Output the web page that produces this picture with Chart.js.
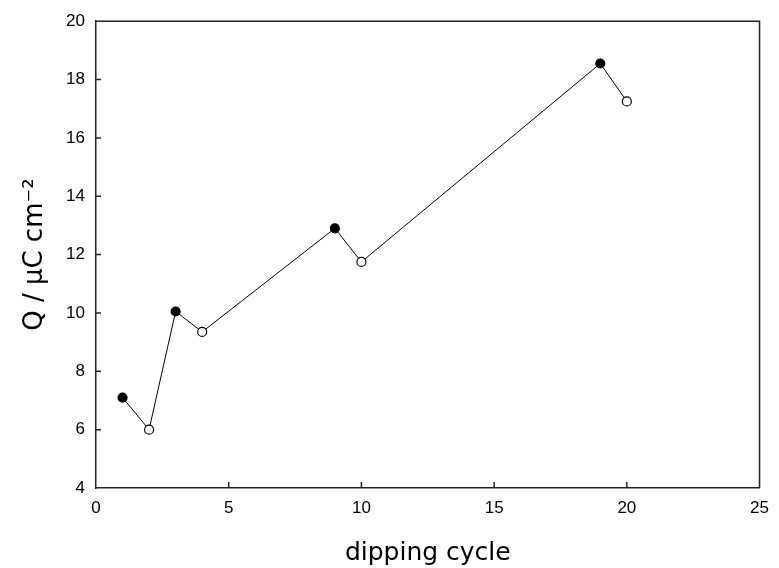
<!DOCTYPE html>
<html>
<head>
<meta charset="utf-8">
<script src="https://cdn.jsdelivr.net/npm/chart.js@4.4.0/dist/chart.umd.min.js"></script>
<style>
  html, body { margin: 0; padding: 0; background: #fff; }
  #wrap { width: 779px; height: 568px; }
</style>
</head>
<body>
<div id="wrap"><canvas id="mycanvas"></canvas></div>
<script>
// dipping cycle vs charge
var cycles = [1, 2, 3, 4, 9, 10, 19, 20];
var charge = [7.1, 6.0, 10.05, 9.35, 12.9, 11.75, 18.55, 17.25];
// filled marker = true, open marker = false
var filled = [true, false, true, false, true, false, true, false];

var xTicks = [0, 5, 10, 15, 20, 25];
var yTicks = [4, 6, 8, 10, 12, 14, 16, 18, 20];

var points = [];
for (var i in cycles) {
	points.push({x: cycles[i], y: charge[i]});
}

var fills = filled.map(function(f) { return f ? '#000' : '#fff'; });

// inward ticks + closing frame on top and right
var frameTicks = {
	id: 'frameTicks',
	afterDatasetsDraw: function(chart) {
		var ctx = chart.ctx;
		var a = chart.chartArea;
		var xs = chart.scales.x, ys = chart.scales.y;
		ctx.save();
		ctx.strokeStyle = '#222';
		ctx.lineWidth = 1.5;
		ctx.beginPath();
		ctx.moveTo(a.left, a.top);
		ctx.lineTo(a.right, a.top);
		ctx.lineTo(a.right, a.bottom);
		ctx.stroke();
		ctx.lineWidth = 1.5;
		ctx.beginPath();
		xTicks.forEach(function(v) {
			if (v === 0 || v === 25) return;
			var px = xs.getPixelForValue(v);
			ctx.moveTo(px, a.bottom);
			ctx.lineTo(px, a.bottom - 6);
		});
		yTicks.forEach(function(v) {
			if (v === 4 || v === 20) return;
			var py = ys.getPixelForValue(v);
			ctx.moveTo(a.left, py);
			ctx.lineTo(a.left + 5, py);
		});
		ctx.stroke();
		ctx.restore();
	}
};

var ctx = document.getElementById('mycanvas');

var chart = new Chart(ctx, {
	type: 'scatter',
	data: {
		datasets: [
			{
				label: 'Q',
				data: points,
				showLine: true,
				borderColor: '#000',
				borderWidth: 1,
				pointBackgroundColor: fills,
				pointBorderColor: '#000',
				pointBorderWidth: 1.2,
				pointRadius: 4.5,
				tension: 0
			}
		]
	},
	options: {
		responsive: true,
		maintainAspectRatio: false,
		animation: false,
		layout: { padding: { top: 21, right: 14, left: 0, bottom: 0 } },
		plugins: {
			legend: { display: false },
			tooltip: { enabled: false }
		},
		scales: {
			x: {
				type: 'linear',
				min: 0,
				max: 25,
				afterFit: function(s) { s.height = 80; },
				afterBuildTicks: function(s) {
					s.ticks = xTicks.map(function(v) { return {value: v}; });
				},
				grid: { display: false, drawTicks: false },
				border: { display: true, color: '#222', width: 1.5 },
				ticks: {
					padding: 10,
					color: '#000',
					font: { family: 'Liberation Sans', size: 17 }
				},
				title: {
					display: true,
					text: 'dipping cycle',
					color: '#000',
					padding: { top: 0, bottom: 0 },
					font: { family: 'DejaVu Sans', size: 25 }
				}
			},
			y: {
				type: 'linear',
				min: 4,
				max: 20,
				afterFit: function(s) { s.width = 96; },
				afterBuildTicks: function(s) {
					s.ticks = yTicks.map(function(v) { return {value: v}; });
				},
				grid: { display: false, drawTicks: false },
				border: { display: true, color: '#222', width: 1.5 },
				ticks: {
					padding: 11,
					color: '#000',
					font: { family: 'Liberation Sans', size: 17 }
				},
				title: {
					display: true,
					text: 'Q / μC cm⁻²',
					color: '#000',
					padding: { top: 20, bottom: 20 },
					font: { family: 'DejaVu Sans', size: 26 }
				}
			}
		}
	},
	plugins: [frameTicks]
});
</script>
</body>
</html>
